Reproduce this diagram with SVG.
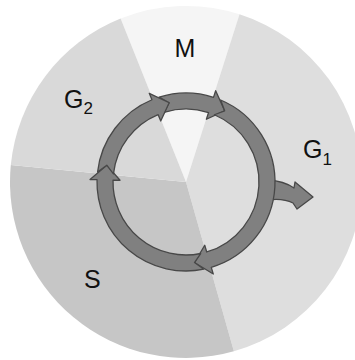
<svg xmlns="http://www.w3.org/2000/svg" width="355" height="360" viewBox="0 0 355 360">
<style>
.lbl{font-family:"Liberation Sans",Arial,sans-serif;fill:#111;}
.big{font-size:25px;}
.sub{font-size:17px;}
.seg{fill:#808080;stroke:#484848;stroke-width:1.3;stroke-linejoin:round;}
</style>
<rect width="355" height="360" fill="#ffffff"/>
<g id="pie">
<path id="wedge-M" d="M186,182 L120.6,18.6 A176,176 0 0 1 239.5,14.3 Z" fill="#f5f5f5"/>
<path id="wedge-G1" d="M186,182 L239.5,14.3 A176,176 0 0 1 233.9,351.3 Z" fill="#dedede"/>
<path id="wedge-S" d="M186,182 L233.9,351.3 A176,176 0 0 1 10.8,165.1 Z" fill="#c6c6c6"/>
<path id="wedge-G2" d="M186,182 L10.8,165.1 A176,176 0 0 1 120.6,18.6 Z" fill="#d9d9d9"/>
</g>
<g id="connectors">
<path id="exit" class="seg" d="M268,180 Q284,181 294,188 L295,182 L313,197 L297,209 L293,203 Q283,198 268,200 Z"/>
<path id="arrow-M" class="seg" d="M159.09,97.17 A89,89 0 0 1 213.5,97.35 L215.67,90.69 L224.65,110.82 L206.39,119.23 L208.56,112.57 A73,73 0 0 0 163.92,112.42 L169.16,102.77 Z"/>
<path id="arrow-G1" class="seg" d="M220.63,100.01 A89,89 0 0 1 211.28,267.33 L213.26,274.04 L194.47,262.56 L204.74,245.28 L206.73,251.99 A73,73 0 0 0 214.4,114.75 L224.65,110.82 Z"/>
<path id="arrow-S" class="seg" d="M203.9,269.18 A89,89 0 0 1 97.03,179.67 L90.03,179.49 L106.77,165.16 L120.02,180.27 L113.02,180.09 A73,73 0 0 0 200.68,253.51 L194.47,262.56 Z"/>
<path id="arrow-G2" class="seg" d="M97.55,172.08 A89,89 0 0 1 151.94,99.77 L149.26,93.31 L169.16,102.77 L160.74,121.02 L158.06,114.56 A73,73 0 0 0 113.45,173.86 L106.77,165.16 Z"/>
</g>
<g id="label-M"><text class="lbl big" x="185" y="57" text-anchor="middle">M</text></g>
<g id="label-G2"><text class="lbl big" x="64" y="108">G<tspan class="sub" dy="6">2</tspan></text></g>
<g id="label-G1"><text class="lbl big" x="303" y="158">G<tspan class="sub" dy="7">1</tspan></text></g>
<g id="label-S"><text class="lbl big" x="84" y="288">S</text></g>
</svg>
